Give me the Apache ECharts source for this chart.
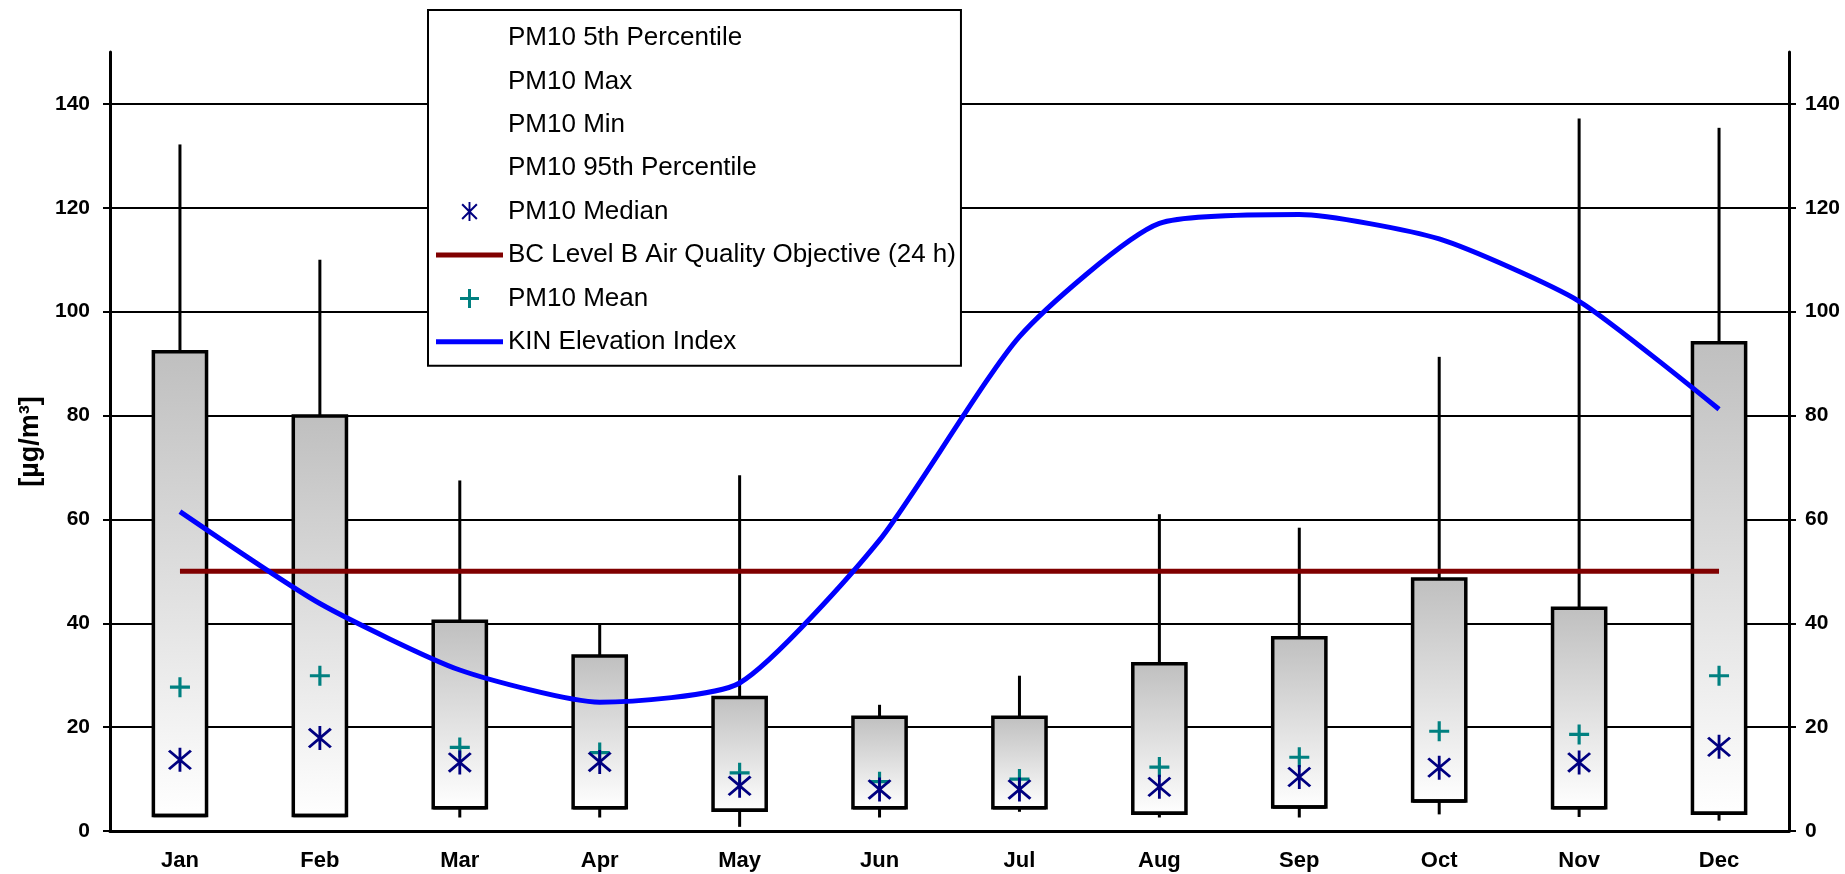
<!DOCTYPE html>
<html>
<head>
<meta charset="utf-8">
<title>PM10 by month</title>
<script src="https://cdn.jsdelivr.net/npm/echarts@6/dist/echarts.min.js"></script>
<style>
  html, body { margin: 0; padding: 0; background: #fff; }
  #myChart1 { width: 1845px; height: 874px; }
</style>
</head>
<body>
<div id="myChart1"></div>
<script>
var months = ['Jan', 'Feb', 'Mar', 'Apr', 'May', 'Jun', 'Jul', 'Aug', 'Sep', 'Oct', 'Nov', 'Dec']
var yTicks = [0, 20, 40, 60, 80, 100, 120, 140]

// PM10 statistics, µg/m3
var pm10Min = [3.0, 3.0, 2.6, 2.6, 0.8, 2.6, 3.7, 2.6, 2.6, 3.2, 2.7, 2.0]
var pm10P5 = [3.0, 3.0, 4.5, 4.5, 4.0, 4.5, 4.5, 3.4, 4.6, 5.8, 4.5, 3.4]
var pm10P95 = [92.3, 79.9, 40.4, 33.7, 25.7, 21.9, 21.9, 32.2, 37.2, 48.5, 42.9, 94.0]
var pm10Max = [132.2, 110.0, 67.5, 39.7, 68.5, 24.3, 29.9, 61.0, 58.4, 91.3, 137.2, 135.4]
var pm10Median = [13.7, 17.9, 13.2, 13.3, 8.7, 8.0, 8.0, 8.5, 10.4, 12.2, 13.2, 16.2]
var pm10Mean = [27.7, 29.9, 16.1, 15.1, 11.2, 9.5, 10.0, 12.3, 14.2, 19.2, 18.6, 29.9]
var bcObjective = [50, 50, 50, 50, 50, 50, 50, 50, 50, 50, 50, 50]
var kinIndex = [61.5, 43.8, 31.0, 24.8, 28.5, 56.0, 95.2, 117.0, 118.7, 114.0, 102.0, 81.2]

var font = 'Liberation Sans, Arial, sans-serif'
var boxRatio = 0.38
var asteriskPath = 'path://M9,0 L11,0 L11,20 L9,20 Z M1.5,3 L3,1.5 L18.5,17 L17,18.5 Z M17,1.5 L18.5,3 L3,18.5 L1.5,17 Z'
var plusPath = 'path://M8,0 L11,0 L11,19 L8,19 Z M0,8 L19,8 L19,11 L0,11 Z'
var lineIcon = 'path://M0,0 L67,0 L67,5 L0,5 Z'

function pairs (a, b) {
  return months.map(function (m, i) { return [i, a[i], b[i]] })
}

// vertical whisker between two values
function whiskerItem (params, api) {
  var p1 = api.coord([api.value(0), api.value(1)])
  var p2 = api.coord([api.value(0), api.value(2)])
  return {
    type: 'line',
    shape: { x1: p1[0], y1: p1[1], x2: p2[0], y2: p2[1] },
    style: { stroke: '#000', lineWidth: 3 }
  }
}

// 5th - 95th percentile box, grey to white
function boxItem (params, api) {
  var lo = api.coord([api.value(0), api.value(1)])
  var hi = api.coord([api.value(0), api.value(2)])
  var w = api.size([1, 0])[0] * boxRatio
  return {
    type: 'rect',
    shape: { x: lo[0] - w / 2, y: hi[1], width: w, height: lo[1] - hi[1] },
    style: {
      fill: {
        type: 'linear', x: 0, y: 0, x2: 0, y2: 1,
        colorStops: [{ offset: 0, color: '#bfbfbf' }, { offset: 1, color: '#ffffff' }]
      },
      stroke: '#000',
      lineWidth: 3.5
    }
  }
}

// bottom edge of the box at the 5th percentile
function lowEdgeItem (params, api) {
  var p = api.coord([api.value(0), api.value(1)])
  var w = api.size([1, 0])[0] * boxRatio
  return {
    type: 'line',
    shape: { x1: p[0] - w / 2, y1: p[1], x2: p[0] + w / 2, y2: p[1] },
    style: { stroke: '#000', lineWidth: 3.5 }
  }
}

var axisText = { fontFamily: font, fontWeight: 'bold', fontSize: 21, color: '#000' }

var myChart = echarts.init(document.getElementById('myChart1'))
var option = {
  animation: false,
  backgroundColor: '#fff',
  grid: { left: 110, right: 56, top: 52, bottom: 43 },
  legend: {
    orient: 'vertical',
    left: 428,
    top: 10,
    backgroundColor: '#fff',
    borderColor: '#000',
    borderWidth: 2,
    borderRadius: 0,
    padding: [15, 5, 11, 8],
    itemGap: 17.4,
    itemWidth: 67,
    itemHeight: 19,
    textStyle: { fontFamily: font, fontSize: 26, color: '#000' },
    data: [
      { name: 'PM10 5th Percentile', icon: 'none' },
      { name: 'PM10 Max', icon: 'none' },
      { name: 'PM10 Min', icon: 'none' },
      { name: 'PM10 95th Percentile', icon: 'none' },
      'PM10 Median',
      { name: 'BC Level B Air Quality Objective (24 h)', icon: lineIcon },
      'PM10 Mean',
      { name: 'KIN Elevation Index', icon: lineIcon }
    ]
  },
  xAxis: {
    type: 'category',
    data: months,
    boundaryGap: true,
    axisLine: { lineStyle: { color: '#000', width: 3 } },
    axisTick: { length: 7, lineStyle: { color: '#000', width: 2 } },
    axisLabel: Object.assign({}, axisText, { margin: 19, fontSize: 22 })
  },
  yAxis: [{
    type: 'value',
    position: 'left',
    min: 0,
    max: 150,
    interval: 20,
    name: '[µg/m³]',
    nameLocation: 'middle',
    nameGap: 66,
    nameTextStyle: { fontFamily: font, fontWeight: 'bold', fontSize: 27, color: '#000' },
    axisLine: { show: true, lineStyle: { color: '#000', width: 3 } },
    axisTick: { show: true, length: 7, customValues: yTicks, lineStyle: { color: '#000', width: 2 } },
    axisLabel: Object.assign({ margin: 20, customValues: yTicks }, axisText),
    splitLine: { show: true, lineStyle: { color: '#000', width: 2 } }
  }, {
    type: 'value',
    position: 'right',
    min: 0,
    max: 150,
    interval: 20,
    axisLine: { show: true, lineStyle: { color: '#000', width: 3 } },
    axisTick: { show: true, length: 7, customValues: yTicks, lineStyle: { color: '#000', width: 2 } },
    axisLabel: Object.assign({ margin: 16, customValues: yTicks }, axisText),
    splitLine: { show: false }
  }],
  series: [{
    name: 'PM10 5th Percentile',
    type: 'custom',
    renderItem: lowEdgeItem,
    data: months.map(function (m, i) { return [i, pm10P5[i]] }),
    z: 3
  }, {
    name: 'PM10 Max',
    type: 'custom',
    renderItem: whiskerItem,
    data: pairs(pm10P95, pm10Max),
    z: 2
  }, {
    name: 'PM10 Min',
    type: 'custom',
    renderItem: whiskerItem,
    data: pairs(pm10Min, pm10P5),
    z: 2
  }, {
    name: 'PM10 95th Percentile',
    type: 'custom',
    renderItem: boxItem,
    data: pairs(pm10P5, pm10P95),
    z: 2
  }, {
    name: 'BC Level B Air Quality Objective (24 h)',
    type: 'line',
    data: bcObjective,
    symbol: 'none',
    lineStyle: { color: '#800000', width: 5 },
    itemStyle: { color: '#800000' },
    z: 4
  }, {
    name: 'KIN Elevation Index',
    type: 'line',
    yAxisIndex: 1,
    data: kinIndex,
    symbol: 'none',
    smooth: 0.2,
    lineStyle: { color: '#0000ff', width: 5 },
    itemStyle: { color: '#0000ff' },
    z: 4
  }, {
    name: 'PM10 Mean',
    type: 'scatter',
    data: pm10Mean,
    symbol: plusPath,
    symbolSize: 20,
    itemStyle: { color: '#008080', opacity: 1 },
    z: 5
  }, {
    name: 'PM10 Median',
    type: 'scatter',
    data: pm10Median,
    symbol: asteriskPath,
    symbolSize: 24,
    itemStyle: { color: '#000080', opacity: 1 },
    z: 5
  }]
}
myChart.setOption(option, true)
</script>
</body>
</html>
